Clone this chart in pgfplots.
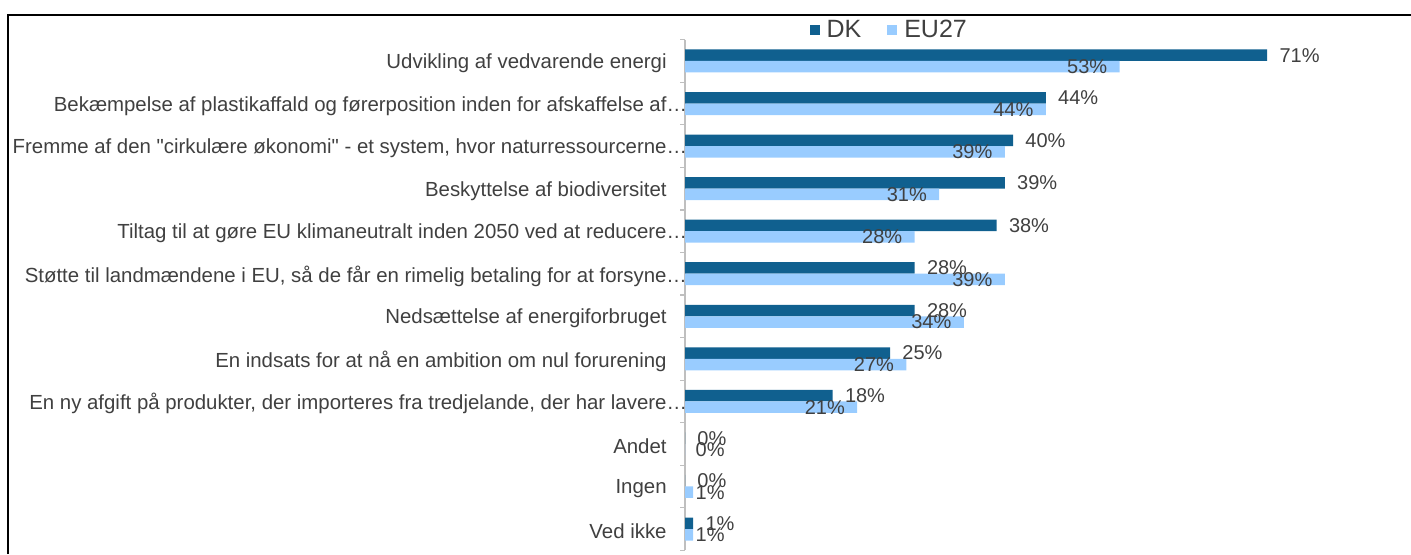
\documentclass[border=0pt]{standalone}
\usepackage{fontspec}
\setmainfont{Liberation Sans}
\newfontfamily\plainfont{Liberation Sans}
\usepackage{pgfplots}
\pgfplotsset{compat=1.18}

\definecolor{dkblue}{HTML}{10608F}
\definecolor{eublue}{HTML}{99CCFF}
\definecolor{txt}{HTML}{404040}
\definecolor{axgray}{HTML}{BFBFBF}

% share of respondents, DK and EU27 (per cent)
\pgfplotstableread{
idx dk eu
0 71 53
1 44 44
2 40 39
3 39 31
4 38 28
5 28 39
6 28 34
7 25 27
8 18 21
9 0 0
10 0 1
11 1 1
}\datatable

\newcommand{\lbl}{\fontsize{10}{11}\selectfont}
\newcommand{\cat}{\fontsize{10.2}{11}\selectfont}
\newcommand{\q}{{\plainfont"}}

\begin{document}
\begin{tikzpicture}
\useasboundingbox (0pt,0pt) rectangle (705.5pt,277pt);
\draw[black,line width=0.9pt] (4pt,0pt) -- (4pt,269.5pt) -- (705.5pt,269.5pt);
\begin{axis}[
    at={(342.5pt,1.85pt)}, anchor=south west,
    scale only axis,
    width=360.8pt, height=255.3pt,
    xbar=0pt,
    bar width=5.75pt,
    y dir=reverse,
    xmin=0, xmax=88,
    ymin=-0.5, ymax=11.5,
    axis x line=none,
    axis y line*=left,
    y axis line style={draw=axgray, line width=0.6pt, -},
    ytick={0,...,11},
    major tick length=0pt,
    extra y ticks={-0.5,0.5,...,11.5},
    extra y tick labels={},
    extra y tick style={major tick length=2.4pt, tick align=outside, tick style={draw=axgray, line width=0.6pt}},
    yticklabels={
        {Udvikling af vedvarende energi},
        {Bekæmpelse af plastikaffald og førerposition inden for afskaffelse af\rlap{…}},
        {Fremme af den \q cirkulære økonomi\q{} - et system, hvor naturressourcerne\rlap{…}},
        {Beskyttelse af biodiversitet},
        {Tiltag til at gøre EU klimaneutralt inden 2050 ved at reducere\rlap{…}},
        {Støtte til landmændene i EU, så de får en rimelig betaling for at forsyne\rlap{…}},
        {Nedsættelse af energiforbruget},
        {En indsats for at nå en ambition om nul forurening},
        {En ny afgift på produkter, der importeres fra tredjelande, der har lavere\rlap{…}},
        {Andet},
        {Ingen},
        {Ved ikke}},
    yticklabel style={font=\cat, text=txt, anchor=east, inner sep=0pt, xshift=-9pt, yshift=-1.2pt},
    legend columns=-1,
    legend style={draw=none, fill=none, at={(0.283,1)}, anchor=center, yshift=4.9pt,
        font=\fontsize{12.5}{13}\selectfont, text=txt,
        nodes={inner xsep=1pt, inner ysep=0pt},
        /tikz/every even column/.style={column sep=12pt}},
    legend image code/.code={\fill[#1,draw=none] (0pt,-2.5pt) rectangle (5pt,2.5pt); \path (7.5pt,0pt);},
    clip=false,
]
\addplot[fill=dkblue, draw=none, bar shift=2.875pt,
    nodes near coords={\pgfplotspointmeta\%},
    point meta=explicit symbolic,
    every node near coord/.style={font=\lbl, text=txt, anchor=west, inner sep=0pt, xshift=6pt, yshift=2.875pt},
] table[x=dk, y=idx, meta=dk] {\datatable};
\addplot[fill=eublue, draw=none, bar shift=-2.875pt,
    visualization depends on={\thisrow{eu} \as \euv},
    nodes near coords={\pgfplotspointmeta\%},
    point meta=explicit symbolic,
    every node near coord/.style={font=\lbl, text=txt, anchor=east, inner sep=0pt,
        xshift={ifthenelse(\euv>5,-6,20-4.1*\euv)*1pt}, yshift=-2.875pt},
] table[x=eu, y=idx, meta=eu] {\datatable};
\legend{DK, EU27}
\end{axis}
\end{tikzpicture}
\end{document}
